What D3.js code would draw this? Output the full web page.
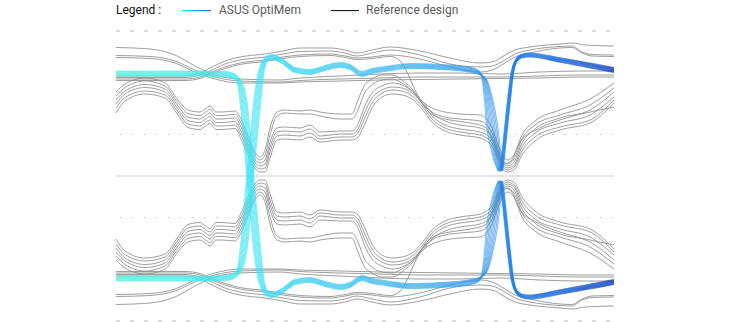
<!DOCTYPE html>
<html><head><meta charset="utf-8">
<script src="https://cdn.jsdelivr.net/npm/d3@7"></script>
<style>
html,body{margin:0;padding:0;background:#fff;}
svg{display:block;font-family:Roboto,"Noto Sans",sans-serif;}
</style></head><body>
<svg id="chart" width="730" height="322"></svg>
<script>
// ---------- DATA (time in ps from left edge, amplitude in a.u.; bottom half is the mirror image) ----------
const legendLabels = ["Legend :", "ASUS OptiMem", "Reference design"];
const gridDashed = [145, -145];
const gridDotted = [41.5, -41.5];
const gridCenter = [0];

// Reference design traces — upper group (start high on the left)
const uT  = [0,34,59,79,99,124,164,184,224,264,304,344,384,424,464,498];
const u0V = [128.5,127,121,110,101,97,96,98,100,102,103,103,102,104,105,105];
const u1V = [120.5,119.5,115,106,99,95,94,95.5,97,98,99,99,99,100,101,101];
const u2V = [118.5,117.5,113,104,97,93,93,94,95,96,96.5,97,97.5,98,99,99];

// Reference design traces — group rising from just below the ASUS band
const p0T = [0,69,84,96,109,124,149,167,184,214,229,241,256,274,304,334,364,376,389,399,414,444,456,469,498];
const p0V = [100,100,103,109,115,119,122,125,128,128,126,123,126,129,125,118,113,114,121,126,129,132,133,131,130];
const p1T = [0,69,84,96,109,124,149,167,184,214,229,241,256,274,304,334,364,376,389,399,414,444,456,466,476,498];
const p1V = [98.5,98.5,101,106,112,116,119,122,124.5,125,123,120,123,126,121,112,109,110,116,122,126,129.5,130,124,121.5,121];
const p2V = [97,97,99,104,109,113,116,119,121,122,120,118,119,121,117,109,104,106,113,119,123,128,128.5,123,120,119.5];
const xT  = [0,69,84,96,109,124,149,167,184,214,229,241,256,274,282,290,299,309,319,334,354,369,380,388,395,404,424,444,474,498];
const xV  = [95.5,95.5,97.5,102.5,107.5,111.5,114.5,117.5,119.5,120.5,118.5,116.5,117.5,119.5,117,106,86,68,60,56,53,49,28,12,15,34,48,56,64,69];

// Reference design traces — inner bundle (closing the eye)
const bT  = [0,9,29,49,62,72,84,89,94,100,106,119,125,132,138,144,149,154,161,169,184,194,204,224,236,242,248,256,266,276,286,296,306,316,329,344,364,376,384,391,398,406,419,444,474,498];
const b0V = [84,92,98,93,76,66,64,67,70,64,64,65,57,40,25,19,26,48,64,66,65,66,64,62,62,76,90,97,101,101,96,87,75,68,64,62,61,48,26,16,21,41,55,66,77,93];
const b1V = [80,88.5,95,90,73,62.5,60.5,63.5,66.5,60.5,60.5,61.5,53,36,22,16,21,41,60,63,62,62,60,57,57,66,82,91,96,97,93,85,73,64,59,57,55,43,22,12,17,37,51,61,71,88];
const b2V = [76,85,91.5,87,70,59,57,60,63,57,57,58,49,32,18,13,16,34,48,49,48,51,44,45,45,52,68,83,90,93,91,85,75,63,55,51,48,39,19,10,14,33,47,58,66,84];
const b3V = [72,82,88.5,84,67,55.5,53.5,56.5,59.5,53.5,53.5,54.5,45,28,15,10,12,29,44,45,44,47,40,42,42,47,62,78,86,89,88,83,73,60,51,47,44,36,16,8,11,29,43,53,61,79];
const b4V = [68,78.5,85,81,64,52,50,53,56,50,50,51,41,25,12,7,8,24,40,41,40,43,37,39,39,43,56,73,83,86,85,80,70,57,48,44,41,33,14,6,9,25,39,49,56,76];
const b5V = [63,75,82,78,61,48.5,46.5,49.5,52.5,46.5,46.5,47.5,37,21,9,4,4,18,36,37,36,39,34,36,36,39,50,68,79,82,81,77,67,54,45,41,38,30,11,4,6,21,35,46,53,73];

// ASUS OptiMem trace (centre of the bundle) and its spread in time / amplitude
const asusT  = [0,84,109,116,121,124,126,128,131,134,137.5,141.5,144,147.5,152,156,166,179,194,209,224,234,246,256,269,294,324,349,362,368,372,376,380,383,384.5,387,390,393,396,400,406,414,444,498];
const asusV  = [102.5,102.5,102,100.5,97.5,92,84,70,38,2,-36,-76,-97,-112,-118,-119,-115,-106,-104,-108,-111,-109,-102,-105,-107,-110,-109,-107,-104,-98,-80,-51,-25,-10,-5,-20,-48,-76,-101,-115,-120,-121,-116,-106];
const asusSpreadT = [0,0,0,1,2,4,6,7,7,7,7,7,6,4,2,0,0,0,0,0,0,0,0,0,0,0,0,0,2,5,8,11,9,6,4,3,3,3,2.5,1,0,0,0,0];
const asusSpreadV = [5,5,5,5,4,3,2,1,0,0,0,0,1,3,4,5,5,5,5,5,5,5,5,5,5,5,5,5,5,3,1,0,0,0,0,0,0,0,1,3,3.5,4,4.5,5];
const asusCopies  = [-0.5,-0.375,-0.25,-0.125,0,0.125,0.25,0.375,0.5];

// ---------- DRAWING ----------
const svg = d3.select("#chart");
const x = d3.scaleLinear().domain([0,498]).range([116,614]);
const y = d3.scaleLinear().domain([-145,145]).range([321,31]);

const defs = svg.append("defs");
const g1 = defs.append("linearGradient").attr("id","bandGrad")
  .attr("gradientUnits","userSpaceOnUse").attr("x1",x(0)).attr("x2",x(498)).attr("y1",0).attr("y2",0);
[[0,"#48f2dc"],[0.28,"#3ae4f4"],[0.55,"#3ab6ee"],[0.74,"#3094e8"],[0.8,"#1478e6"],[0.9,"#0a58d4"],[1,"#0032b8"]]
  .forEach(([o,c])=>g1.append("stop").attr("offset",o).attr("stop-color",c));
const g2 = defs.append("linearGradient").attr("id","legGrad");
[[0,"#12eef0"],[1,"#2a5ee8"]].forEach(([o,c])=>g2.append("stop").attr("offset",o).attr("stop-color",c));

// grid
const grid = svg.append("g");
grid.selectAll(".gd").data(gridDashed).join("line")
  .attr("x1",x(0)).attr("x2",x(498)).attr("y1",d=>y(d)).attr("y2",d=>y(d))
  .attr("stroke","#b5b5b5").attr("stroke-width",1).attr("stroke-dasharray","4,10");
grid.selectAll(".gt").data(gridDotted).join("line")
  .attr("x1",x(4)).attr("x2",x(498)).attr("y1",d=>y(d)).attr("y2",d=>y(d))
  .attr("stroke","#c4c4c4").attr("stroke-width",1).attr("stroke-dasharray","1.5,10.5");
grid.selectAll(".gc").data(gridCenter).join("line")
  .attr("x1",x(0)).attr("x2",x(498)).attr("y1",d=>y(d)).attr("y2",d=>y(d))
  .attr("stroke","#e6e6e6").attr("stroke-width",2);

const line = d3.line().x(d=>x(d[0])).y(d=>y(d[1])).curve(d3.curveMonotoneX);
const zip = (T,V)=>T.map((t,i)=>[t,V[i]]);

const refTraces = [
  zip(uT,u0V), zip(uT,u1V), zip(uT,u2V),
  zip(p0T,p0V), zip(p1T,p1V), zip(p1T,p2V), zip(xT,xV),
  zip(bT,b0V), zip(bT,b1V), zip(bT,b2V), zip(bT,b3V), zip(bT,b4V), zip(bT,b5V)
];
const refAll = [];
refTraces.forEach(tr=>{ refAll.push(tr); refAll.push(tr.map(([t,v])=>[t,-v])); });
svg.append("g").selectAll("path").data(refAll).join("path")
  .attr("d",line).attr("fill","none").attr("stroke","#8c8c8c").attr("stroke-width",0.85);

// ASUS band
const bandAll = [];
[1,-1].forEach(s=>asusCopies.forEach(k=>{
  bandAll.push(asusT.map((t,i)=>[t + k*asusSpreadT[i], s*(asusV[i] + k*asusSpreadV[i])]));
}));
svg.append("g").selectAll("path").data(bandAll).join("path")
  .attr("d",line).attr("fill","none").attr("stroke","url(#bandGrad)")
  .attr("stroke-width",1.1).attr("stroke-opacity",0.6);

// legend
const leg = svg.append("g").attr("font-size",12);
leg.append("text").attr("x",116).attr("y",13.5).attr("fill","#111").text(legendLabels[0]);
leg.append("rect").attr("x",182).attr("y",10).attr("width",29).attr("height",1.2).attr("fill","url(#legGrad)");
leg.append("text").attr("x",219).attr("y",13.5).attr("fill","#5a5a5a").text(legendLabels[1]);
leg.append("line").attr("x1",331).attr("x2",359).attr("y1",10.6).attr("y2",10.6).attr("stroke","#000").attr("stroke-width",1);
leg.append("text").attr("x",366).attr("y",13.5).attr("fill","#5a5a5a").text(legendLabels[2]);
</script>
</body></html>
